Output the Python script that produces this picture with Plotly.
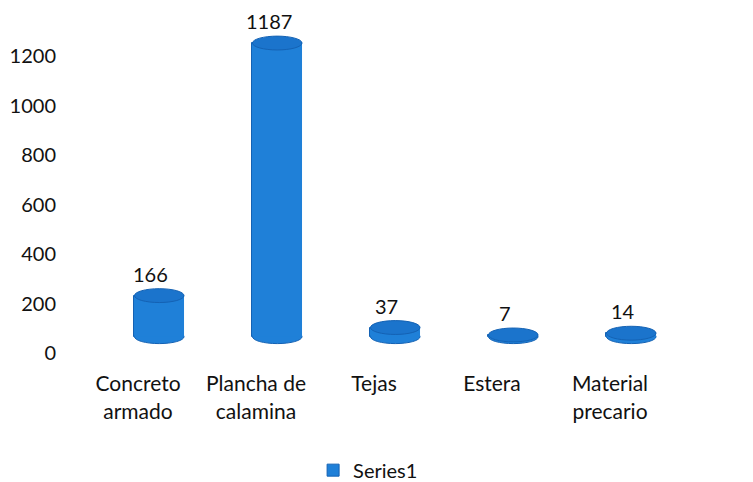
import plotly.graph_objects as go

# Data
CATEGORIES = ["Concreto<br>armado", "Plancha de<br>calamina", "Tejas", "Estera", "Material<br>precario"]
VALUES = [166, 1187, 37, 7, 14]
SERIES_NAME = "Series1"
Y_TICKS = [0, 200, 400, 600, 800, 1000, 1200]

# 3D-look styling (positions in axis units)
DEPTH_SHIFT = 0.18      # cylinders sit behind/right of their labels
FLOOR = 66              # floor of the 3D box, lifted above y=0
BAR_WIDTH = 0.42
CAP_HALF = 28           # half-height of the elliptical caps
BODY_COLOR = "#1f80d8"
EDGE_COLOR = "#1462b4"
CAP_COLOR = "#1b74cc"
FONT = "Lato"

xs = [i + DEPTH_SHIFT for i in range(len(VALUES))]

fig = go.Figure()
fig.add_trace(
    go.Bar(
        x=xs,
        y=VALUES,
        base=[FLOOR] * len(VALUES),
        width=BAR_WIDTH,
        name=SERIES_NAME,
        marker=dict(color=BODY_COLOR, line=dict(color=EDGE_COLOR, width=1)),
        hoverinfo="skip",
        showlegend=True,
    )
)

for x, v in zip(xs, VALUES):
    top = FLOOR + v
    # bottom cap
    fig.add_shape(
        type="circle", xref="x", yref="y", layer="above",
        x0=x - BAR_WIDTH / 2, x1=x + BAR_WIDTH / 2,
        y0=FLOOR - CAP_HALF, y1=FLOOR + CAP_HALF,
        fillcolor=BODY_COLOR, line=dict(color=EDGE_COLOR, width=1),
    )
    # body fill between caps to hide bottom cap's upper outline
    fig.add_shape(
        type="rect", xref="x", yref="y", layer="above",
        x0=x - BAR_WIDTH / 2, x1=x + BAR_WIDTH / 2,
        y0=FLOOR, y1=top,
        fillcolor=BODY_COLOR, line=dict(width=0),
    )
    # top cap
    fig.add_shape(
        type="circle", xref="x", yref="y", layer="above",
        x0=x - BAR_WIDTH / 2, x1=x + BAR_WIDTH / 2,
        y0=top - CAP_HALF, y1=top + CAP_HALF,
        fillcolor=CAP_COLOR, line=dict(color=EDGE_COLOR, width=1),
    )
    fig.add_annotation(
        x=x - 0.07, y=top + CAP_HALF, text=str(v), showarrow=False,
        yanchor="bottom", yshift=1, font=dict(family=FONT, size=20, color="#111"),
    )

# page body has an 8px margin, so the figure is sized to fit the window
fig.update_layout(
    width=745,
    height=474,
    paper_bgcolor="white",
    plot_bgcolor="white",
    font=dict(family=FONT, size=20, color="#111"),
    margin=dict(l=71, r=84, t=16, b=129, autoexpand=False),
    bargap=0,
    xaxis=dict(
        range=[-0.5, len(VALUES) - 0.5],
        tickvals=list(range(len(VALUES))),
        ticktext=CATEGORIES,
        showgrid=False, zeroline=False, showline=False,
        ticks="outside", ticklen=12, tickcolor="rgba(0,0,0,0)",
        tickfont=dict(family=FONT, size=21),
        automargin=False,
    ),
    yaxis=dict(
        range=[0, 1330],
        tickvals=Y_TICKS,
        showgrid=False, zeroline=False, showline=False,
        ticks="outside", ticklen=18, tickcolor="rgba(0,0,0,0)",
        tickfont=dict(family=FONT, size=20),
        automargin=False,
    ),
    showlegend=True,
    legend=dict(
        orientation="h", x=0.49, xanchor="center",
        yref="container", y=0.025, yanchor="middle",
        font=dict(family=FONT, size=20),
    ),
)

fig.write_html("out.html")
